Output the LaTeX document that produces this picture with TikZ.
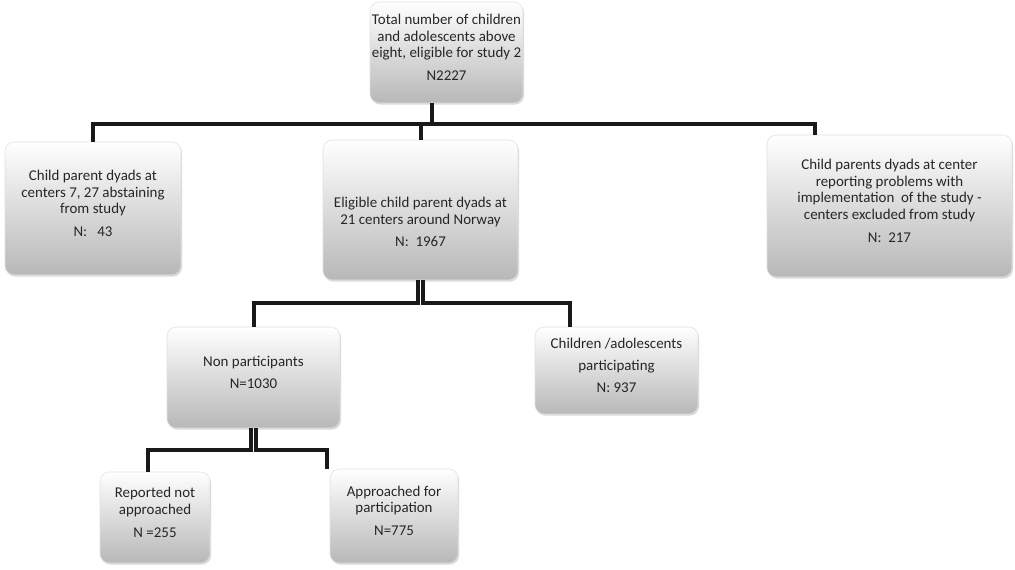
\documentclass[tikz,border=0pt]{standalone}
\usepackage{fontspec}
\setmainfont{Carlito}
\usetikzlibrary{calc,fit,shadows}
\begin{document}
\begin{tikzpicture}[x=0.75pt,y=-0.75pt,
  txt/.style={align=center, text=black!85, inner sep=0pt,
    font=\fontsize{11.2}{12.6}\selectfont},
  box/.style={rounded corners=7pt, draw=black!12, line width=0.4pt,
    top color=white, bottom color=black!28,
    drop shadow={opacity=0.3, shadow xshift=0.8pt, shadow yshift=-1.2pt},
    txt},
  conn/.style={line width=3pt, black!90}]
\useasboundingbox (0,0) rectangle (1015,570);

% boxes (corners in pixel units)
\node[box, fit={(370,2) (523,103)}] (top)
  {Total number of children\\ and adolescents above\\ eight, eligible for study 2\\[4.5pt] N2227};
\node[box, fit={(5,142) (181,275)}] (left)
  {Child parent dyads at\\ centers 7, 27 abstaining\\ from study\\[4.5pt] N:\ \ \ 43};
\node[box, fit={(323,140) (518,280)},
  label={[txt, yshift=-9pt]center:{Eligible child parent dyads at\\ 21 centers around Norway\\[4.5pt] N:\ \ 1967}}] (mid) {};
\node[box, fit={(767,135) (1012,277)}] (right)
  {Child parents dyads at center\\ reporting problems with\\ implementation\ \ of the study -\\ centers excluded from study\\[4.5pt] N:\ \ 217};
\node[box, fit={(167,327) (340,428)}] (non)
  {Non participants\\[4pt] N=1030};
\node[box, fit={(535,327) (698,414)}] (kids)
  {Children /adolescents\\[4pt] participating\\[4pt] N: 937};
\node[box, fit={(100,472) (210,563)}] (rep)
  {Reported not\\ approached\\[4.5pt] N =255};
\node[box, fit={(330,469) (458,563)}] (app)
  {Approached for\\ participation\\[4.5pt] N=775};

% elbow connectors
\draw[conn] ($(top.south)+(-14.5,0)$) -- ++(0,21) -| (left.north);
\draw[conn] ($(top.south)+(-14.5,0)$) -- ++(0,21) -| (mid.north);
\draw[conn] ($(top.south)+(-14.5,0)$) -- ++(0,21) -| ($(right.north)+(-75,0)$);

\draw[conn] ($(mid.south)+(-2.5,0)$) -- ++(0,23) -| (non.north);
\draw[conn] ($(mid.south)+(2.5,0)$) -- ++(0,23) -| ($(kids.north)+(-46.5,0)$);

\draw[conn] ($(non.south)+(-2.5,0)$) -- ++(0,22) -| ($(rep.north)+(-7,0)$);
\draw[conn] ($(non.south)+(2.5,0)$) -- ++(0,22) -| ($(app.north)+(-67,0)$);
\end{tikzpicture}
\end{document}
